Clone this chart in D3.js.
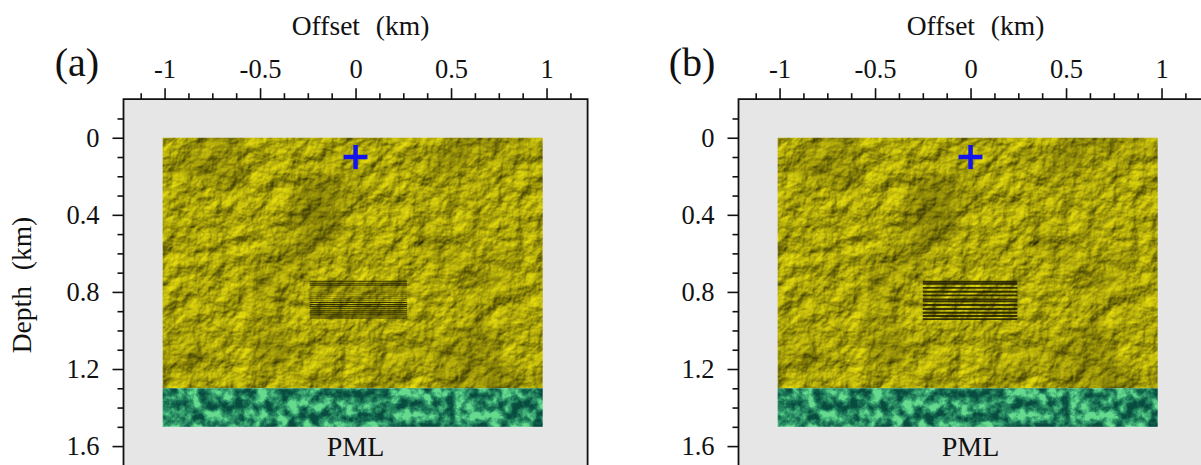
<!DOCTYPE html>
<html><head><meta charset="utf-8">
<script src="https://cdn.jsdelivr.net/npm/d3@7"></script>
<style>
html,body{margin:0;padding:0;background:#fff;}
svg{display:block;}
text{font-family:"Liberation Serif","Times New Roman",serif;fill:#111;}
</style></head><body>
<svg id="fig" width="1201" height="465"></svg>
<script>
// Axis extents and ticks (km)
const offsetDomain = [-1.215, 1.215];
const depthDomain = [-0.2, 1.75];
const offsetTicks = [-1, -0.5, 0, 0.5, 1];
const offsetMinor = [-1.125, -0.875, -0.75, -0.625, -0.375, -0.25, -0.125, 0.125, 0.25, 0.375, 0.625, 0.75, 0.875, 1.125];
const depthTicks = [0, 0.4, 0.8, 1.2, 1.6];
const depthMinor = [-0.1, 0.1, 0.2, 0.3, 0.5, 0.6, 0.7, 0.9, 1.0, 1.1, 1.3, 1.4, 1.5, 1.7];
const panelLabels = ["(a)", "(b)"];

// Model geometry (km)
const modelOffset = [-1.01, 0.98];
const layerDepth = [0, 1.3];
const pmlDepth = [1.3, 1.5];
const sourcePos = [0, 0.1];
const sourceHalf = 0.0625;

// Fracture sets
const fractureOffsetA = [-0.24, 0.27];
const fractureDepthA = [0.745, 0.755, 0.765, 0.775, 0.785, 0.795, 0.805, 0.815, 0.825, 0.835,
                        0.845, 0.855, 0.865, 0.875, 0.885, 0.895, 0.905, 0.915, 0.925, 0.935];
const fractureOffsetB = [-0.25, 0.245];
const fractureDepthB = [0.747, 0.758, 0.779, 0.799, 0.818, 0.839, 0.849, 0.868, 0.889, 0.908, 0.925, 0.941];

const serif = '"Liberation Serif","Times New Roman",serif';

const panels = [
  {label: panelLabels[0], dx: 0, xr: fractureOffsetA, depths: fractureDepthA, width: 1.1},
  {label: panelLabels[1], dx: 615, xr: fractureOffsetB, depths: fractureDepthB, width: 1.9}
];

const svg = d3.select("#fig");
const x = d3.scaleLinear().domain(offsetDomain).range([123.5, 587.6]);
const y = d3.scaleLinear().domain(depthDomain).range([99.2, 475]);

// Textures: embossed rock for the medium, mottled green for the absorbing layer
const defs = svg.append("defs");
const rock = defs.append("filter").attr("id", "rock")
  .attr("x", 0).attr("y", 0).attr("width", 1).attr("height", 1)
  .attr("color-interpolation-filters", "sRGB");
rock.append("feTurbulence").attr("type", "fractalNoise")
  .attr("baseFrequency", 0.05).attr("numOctaves", 6).attr("seed", 7).attr("result", "n");
const lit = rock.append("feDiffuseLighting").attr("in", "n")
  .attr("surfaceScale", 3.5).attr("diffuseConstant", 1.0)
  .attr("lighting-color", "#f0e60e").attr("result", "lit");
lit.append("feDistantLight").attr("azimuth", 235).attr("elevation", 46);
rock.append("feTurbulence").attr("type", "fractalNoise")
  .attr("baseFrequency", 0.012).attr("numOctaves", 2).attr("seed", 3).attr("result", "low");
rock.append("feColorMatrix").attr("in", "low").attr("type", "matrix")
  .attr("values", "1 0 0 0 0  1 0 0 0 0  1 0 0 0 0  0 0 0 0 1").attr("result", "lowg");
const lowMap = rock.append("feComponentTransfer").attr("in", "lowg").attr("result", "lowm");
["R", "G", "B"].forEach(c => lowMap.append("feFunc" + c).attr("type", "linear").attr("slope", 0.9).attr("intercept", 0.55));
rock.append("feComposite").attr("in", "lit").attr("in2", "lowm").attr("operator", "arithmetic")
  .attr("k1", 1).attr("k2", 0).attr("k3", 0).attr("k4", 0).attr("result", "shade");
rock.append("feComposite").attr("in", "shade").attr("in2", "SourceGraphic").attr("operator", "in");

const moss = defs.append("filter").attr("id", "moss")
  .attr("x", 0).attr("y", 0).attr("width", 1).attr("height", 1)
  .attr("color-interpolation-filters", "sRGB");
moss.append("feTurbulence").attr("type", "fractalNoise")
  .attr("baseFrequency", 0.09).attr("numOctaves", 6).attr("seed", 11).attr("result", "n");
moss.append("feColorMatrix").attr("in", "n").attr("type", "matrix")
  .attr("values", "2.4 0 0 0 -0.7  2.4 0 0 0 -0.7  2.4 0 0 0 -0.7  0 0 0 0 1").attr("result", "c");
const ct = moss.append("feComponentTransfer").attr("in", "c").attr("result", "g");
ct.append("feFuncR").attr("type", "table").attr("tableValues", "0.03 0.10 0.22 0.40");
ct.append("feFuncG").attr("type", "table").attr("tableValues", "0.30 0.45 0.64 0.86");
ct.append("feFuncB").attr("type", "table").attr("tableValues", "0.25 0.33 0.44 0.56");
moss.append("feComposite").attr("in", "g").attr("in2", "SourceGraphic").attr("operator", "in");

panels.forEach(p => {
  const g = svg.append("g").attr("transform", `translate(${p.dx},0)`);

  // frame background
  g.append("rect")
    .attr("x", x(offsetDomain[0])).attr("y", y(depthDomain[0]))
    .attr("width", x(offsetDomain[1]) - x(offsetDomain[0]))
    .attr("height", y(depthDomain[1]) - y(depthDomain[0]))
    .attr("fill", "#e6e6e6");

  // medium and absorbing boundary
  g.append("rect")
    .attr("x", x(modelOffset[0])).attr("y", y(layerDepth[0]))
    .attr("width", x(modelOffset[1]) - x(modelOffset[0]))
    .attr("height", y(layerDepth[1]) - y(layerDepth[0]))
    .attr("fill", "#000").attr("filter", "url(#rock)");
  g.append("rect")
    .attr("x", x(modelOffset[0])).attr("y", y(pmlDepth[0]))
    .attr("width", x(modelOffset[1]) - x(modelOffset[0]))
    .attr("height", y(pmlDepth[1]) - y(pmlDepth[0]))
    .attr("fill", "#000").attr("filter", "url(#moss)");

  // fractures
  g.append("g").selectAll("line").data(p.depths).join("line")
    .attr("x1", x(p.xr[0])).attr("x2", x(p.xr[1]))
    .attr("y1", d => y(d)).attr("y2", d => y(d))
    .attr("stroke", "#1e1c00").attr("stroke-width", p.width)
    .attr("stroke-opacity", d => (p.dx === 0 && d > 0.77 && d < 0.85) ? 0.35 : 0.85);

  // source marker
  g.append("line")
    .attr("x1", x(sourcePos[0] - sourceHalf)).attr("x2", x(sourcePos[0] + sourceHalf))
    .attr("y1", y(sourcePos[1])).attr("y2", y(sourcePos[1]))
    .attr("stroke", "#1414ee").attr("stroke-width", 4.5);
  g.append("line")
    .attr("x1", x(sourcePos[0])).attr("x2", x(sourcePos[0]))
    .attr("y1", y(sourcePos[1] - sourceHalf)).attr("y2", y(sourcePos[1] + sourceHalf))
    .attr("stroke", "#1414ee").attr("stroke-width", 4.5);

  // frame
  g.append("path")
    .attr("d", `M${x(offsetDomain[0])},${y(depthDomain[1])}V${y(depthDomain[0])}H${x(offsetDomain[1])}V${y(depthDomain[1])}`)
    .attr("fill", "none").attr("stroke", "#111").attr("stroke-width", 1.8);

  // axes
  const fmt = d => String(d);
  const top = g.append("g").attr("transform", `translate(0,${y(depthDomain[0])})`);
  top.append("g").call(d3.axisTop(x).tickValues(offsetMinor).tickSize(6).tickSizeOuter(0).tickFormat(""));
  top.append("g").call(d3.axisTop(x).tickValues(offsetTicks).tickSize(11).tickSizeOuter(0).tickPadding(10).tickFormat(fmt));
  const left = g.append("g").attr("transform", `translate(${x(offsetDomain[0])},0)`);
  left.append("g").call(d3.axisLeft(y).tickValues(depthMinor).tickSize(6).tickSizeOuter(0).tickFormat(""));
  left.append("g").call(d3.axisLeft(y).tickValues(depthTicks).tickSize(11).tickSizeOuter(0).tickPadding(13).tickFormat(fmt));
  g.selectAll(".domain").remove();
  g.selectAll("g").attr("font-family", null);
  g.selectAll(".tick line").attr("stroke", "#111").attr("stroke-width", 1.6);
  g.selectAll(".tick text").attr("font-size", 26.5).style("font-family", serif).attr("fill", "#111");

  // titles
  const ot = g.append("text").attr("x", x(0) + 5).attr("y", 35)
    .attr("text-anchor", "middle").attr("font-size", 27.5);
  ot.append("tspan").text("Offset");
  ot.append("tspan").attr("dx", 9).text(" (km)");
  g.append("text").attr("x", 77).attr("y", 76).attr("text-anchor", "middle")
    .attr("font-size", 40).text(p.label);
  g.append("text").attr("x", x(0)).attr("y", 456).attr("text-anchor", "middle")
    .attr("font-size", 28).text("PML");
});

// depth label on the left panel
const dt = svg.append("text").attr("transform", "translate(31,285) rotate(-90)")
  .attr("text-anchor", "middle").attr("font-size", 27.5);
dt.append("tspan").text("Depth");
dt.append("tspan").attr("dx", 9).text(" (km)");
</script>
</body></html>
